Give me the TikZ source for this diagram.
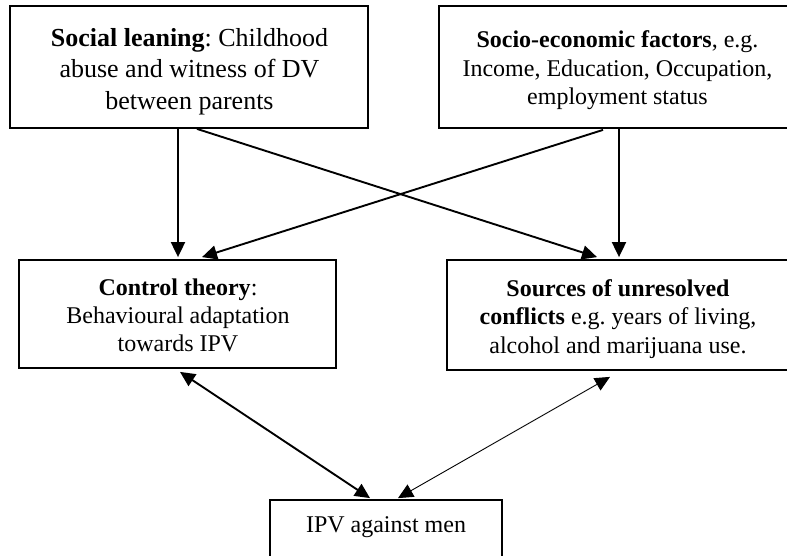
\documentclass[tikz,border=0pt]{standalone}
\usepackage{fontspec}
\setmainfont{Liberation Serif}
\usetikzlibrary{arrows.meta}
\frenchspacing
\begin{document}
\begin{tikzpicture}[x=1pt,y=-1pt,
  box/.style={draw,line width=1.8pt,inner sep=0pt},
  txt/.style={align=center,inner sep=0pt,font=\fontsize{24}{28.3}\selectfont},
  arr/.style={line width=1.9pt,-{Triangle[length=15pt,width=14pt]}},
  darr/.style={line width=1.9pt,{Triangle[length=15pt,width=14pt]}-{Triangle[length=15pt,width=14pt]}},
  tdarr/.style={line width=0.9pt,{Triangle[length=15pt,width=14pt]}-{Triangle[length=15pt,width=14pt]}}]
\useasboundingbox (0,0) rectangle (787,555);
\clip (0,0) rectangle (787,555);
% boxes
\node[box,minimum width=358pt,minimum height=122pt] (b1) at (189,67) {};
\node[box,minimum width=356pt,minimum height=122pt] (b2) at (617,67) {};
\node[box,minimum width=317pt,minimum height=108pt] (b3) at (177.5,314) {};
\node[box,minimum width=343pt,minimum height=110pt] (b4) at (618.5,315) {};
\node[box,minimum width=232pt,minimum height=64pt] (b5) at (386,532) {};
% texts
\node[txt,font=\fontsize{26}{31.5}\selectfont] (t1) at (189.5,71.5)
  {\textbf{Social leaning}: Childhood\\abuse and witness of DV\\between parents};
\node[txt] (t2) at (617.5,70.4)
  {\textbf{Socio-economic factors}, e.g.\\Income, Education, Occupation,\\employment status};
\node[txt] (t3) at (178,315.3)
  {\textbf{Control theory}:\\Behavioural adaptation\\towards IPV};
\node[txt] (t4) at (618,319)
  {\textbf{Sources of unresolved}\\\textbf{conflicts} e.g. years of living,\\alcohol and marijuana use.};
\node[txt] (t5) at (386,527.4) {IPV against men};
% connectors
\draw[arr] ([xshift=-11pt]b1.south) -- ([xshift=0.5pt,yshift=2pt]b3.north);
\draw[arr] ([xshift=8pt]b1.south) -- ([xshift=-21.5pt,yshift=2pt]b4.north);
\draw[arr] ([xshift=-14pt,yshift=-1pt]b2.south) -- ([xshift=24.5pt,yshift=2pt]b3.north);
\draw[arr] ([xshift=2pt]b2.south) -- ([xshift=0.5pt,yshift=2pt]b4.north);
\draw[darr] ([xshift=2.5pt,yshift=-3pt]b3.south) -- ([xshift=-16pt,yshift=1pt]b5.north);
\draw[tdarr] ([xshift=-8.5pt,yshift=-6pt]b4.south) -- ([xshift=12pt,yshift=1pt]b5.north);
\end{tikzpicture}
\end{document}
